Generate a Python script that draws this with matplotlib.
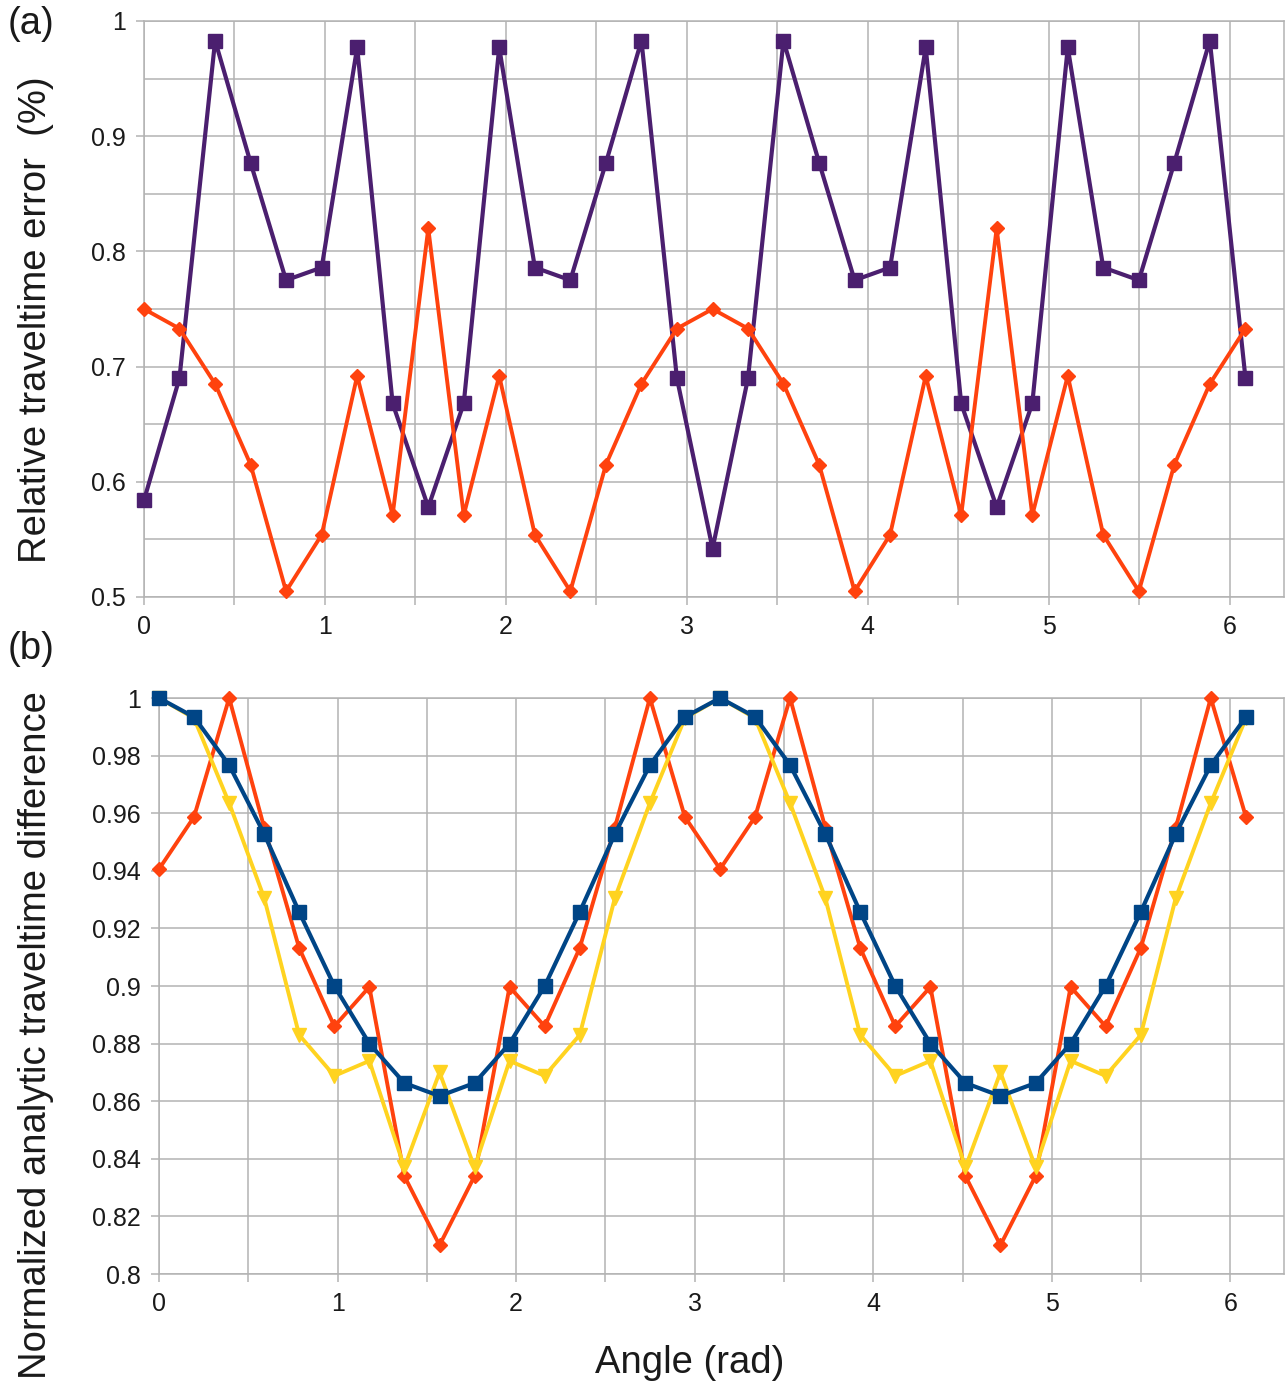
import matplotlib
matplotlib.use("Agg")
import matplotlib.pyplot as plt
from matplotlib.ticker import MultipleLocator, FixedLocator, FuncFormatter

plt.rcParams['font.family'] = ['Liberation Sans', 'DejaVu Sans']

# ---- data ----
angles = [0.000, 0.196, 0.393, 0.589, 0.785, 0.982, 1.178, 1.374, 1.571, 1.767,
          1.963, 2.160, 2.356, 2.553, 2.749, 2.945, 3.142, 3.338, 3.534, 3.731,
          3.927, 4.123, 4.320, 4.516, 4.712, 4.909, 5.105, 5.301, 5.498, 5.694,
          5.890, 6.087]

# panel (a)
err_purple = [0.584, 0.690, 0.983, 0.877, 0.775, 0.786, 0.977, 0.668, 0.578, 0.668,
              0.977, 0.786, 0.775, 0.877, 0.983, 0.690, 0.542, 0.690, 0.983, 0.877,
              0.775, 0.786, 0.977, 0.668, 0.578, 0.668, 0.977, 0.786, 0.775, 0.877,
              0.983, 0.690]
err_orange = [0.750, 0.733, 0.685, 0.615, 0.505, 0.554, 0.692, 0.571, 0.820, 0.571,
              0.692, 0.554, 0.505, 0.615, 0.685, 0.733, 0.750, 0.733, 0.685, 0.615,
              0.505, 0.554, 0.692, 0.571, 0.820, 0.571, 0.692, 0.554, 0.505, 0.615,
              0.685, 0.733]

# panel (b)
diff_blue = [1.000, 0.9934, 0.9767, 0.9528, 0.9257, 0.9000, 0.8800, 0.8663, 0.8618, 0.8663,
             0.8800, 0.9000, 0.9257, 0.9528, 0.9767, 0.9934, 1.000, 0.9934, 0.9767, 0.9528,
             0.9257, 0.9000, 0.8800, 0.8663, 0.8618, 0.8663, 0.8800, 0.9000, 0.9257, 0.9528,
             0.9767, 0.9934]
diff_orange = [0.9406, 0.9587, 1.000, 0.9550, 0.9132, 0.8860, 0.8997, 0.8340, 0.8100, 0.8340,
               0.8997, 0.8860, 0.9132, 0.9550, 1.000, 0.9587, 0.9406, 0.9587, 1.000, 0.9550,
               0.9132, 0.8860, 0.8997, 0.8340, 0.8100, 0.8340, 0.8997, 0.8860, 0.9132, 0.9550,
               1.000, 0.9587]
diff_yellow = [1.000, 0.9930, 0.9635, 0.9306, 0.8830, 0.8688, 0.8740, 0.8370, 0.8700, 0.8370,
               0.8740, 0.8688, 0.8830, 0.9306, 0.9635, 0.9930, 1.000, 0.9930, 0.9635, 0.9306,
               0.8830, 0.8688, 0.8740, 0.8370, 0.8700, 0.8370, 0.8740, 0.8688, 0.8830, 0.9306,
               0.9635, 0.9930]

xticks_major = [0, 1, 2, 3, 4, 5, 6]

PURPLE = '#4b1f6f'
ORANGE = '#ff420e'
BLUE = '#004586'
YELLOW = '#ffd320'
GRID = '#b3b3b3'
TXT = '#1a1a1a'

W, H = 1286, 1387
fig = plt.figure(figsize=(W / 100, H / 100), dpi=100)

def rect(l, t, r, b):
    return [l / W, 1 - b / H, (r - l) / W, (b - t) / H]

ax_a = fig.add_axes(rect(144, 21, 1284, 597))
ax_b = fig.add_axes(rect(159, 698, 1284, 1274))

def style(ax, ylim, ymajor, yminor, fmt):
    ax.set_xlim(0, 6.3)
    ax.set_ylim(*ylim)
    ax.xaxis.set_major_locator(FixedLocator(xticks_major))
    ax.xaxis.set_minor_locator(MultipleLocator(0.5))
    ax.yaxis.set_major_locator(MultipleLocator(ymajor))
    if yminor:
        ax.yaxis.set_minor_locator(MultipleLocator(yminor))
    ax.yaxis.set_major_formatter(FuncFormatter(fmt))
    ax.xaxis.set_major_formatter(FuncFormatter(lambda v, p: f"{v:g}"))
    ax.grid(True, which='both', color=GRID, linewidth=1.1)
    ax.set_axisbelow(True)
    for s in ax.spines.values():
        s.set_color(GRID)
        s.set_linewidth(1.1)
    ax.tick_params(axis='both', which='both', color=GRID, width=1.1, length=6,
                   labelsize=18, labelcolor=TXT)
    ax.tick_params(axis='y', which='minor', length=0)
    ax.tick_params(axis='x', which='minor', length=6)
    ax.tick_params(axis='y', pad=7)
    ax.tick_params(axis='x', pad=7)

def yfmt(v, p):
    s = f"{v:.2f}".rstrip('0').rstrip('.')
    return s

style(ax_a, (0.5, 1.0), 0.1, 0.05, yfmt)
style(ax_b, (0.8, 1.0), 0.02, None, yfmt)

ax_a.plot(angles, err_purple, color=PURPLE, lw=3.0, marker='s', ms=10.5,
          zorder=3, clip_on=False)
ax_a.plot(angles, err_orange, color=ORANGE, lw=2.8, marker='D', ms=7.5,
          zorder=4, clip_on=False)

ax_b.plot(angles, diff_orange, color=ORANGE, lw=2.8, marker='D', ms=7.5,
          zorder=3, clip_on=False)
ax_b.plot(angles, diff_yellow, color=YELLOW, lw=2.8, marker='v', ms=10.5,
          zorder=4, clip_on=False)
ax_b.plot(angles, diff_blue, color=BLUE, lw=3.0, marker='s', ms=10.5,
          zorder=5, clip_on=False)

fig.text(8 / W, 1 - 24 / H, "(a)", fontsize=27.5, color=TXT, ha='left', va='center')
fig.text(8 / W, 1 - 649 / H, "(b)", fontsize=27.5, color=TXT, ha='left', va='center')
fig.text(36 / W, 1 - 320 / H, "Relative traveltime error  (%)", fontsize=27.5,
         color=TXT, rotation=90, ha='center', va='center')
fig.text(36 / W, 1 - 1035 / H, "Normalized analytic traveltime difference",
         fontsize=27.5, color=TXT, rotation=90, ha='center', va='center')
fig.text(690 / W, 1 - 1363 / H, "Angle (rad)", fontsize=27.5, color=TXT,
         ha='center', va='center')

fig.savefig("out.png", dpi=100, facecolor='white')
